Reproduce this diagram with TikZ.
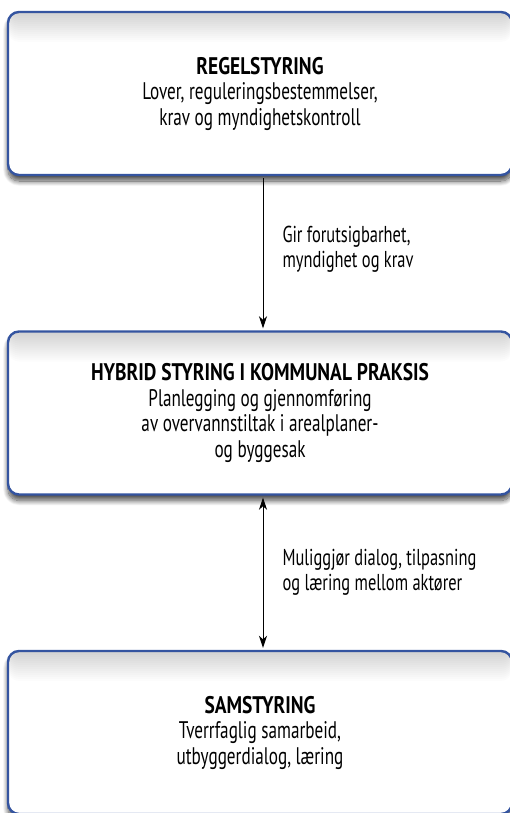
\documentclass[tikz,border=0pt]{standalone}
\usepackage{fontspec}
\setmainfont{PT Sans}[FakeStretch=0.715, BoldFeatures={FakeStretch=0.81}]
\usetikzlibrary{arrows.meta,shadows.blur}
\definecolor{boxblue}{RGB}{52,84,160}

\begin{document}
\begin{tikzpicture}[x=1bp, y=1bp,
	levelbox/.style={draw=boxblue, line width=2.4bp, rounded corners=11bp, fill=white,
		minimum width=504bp, minimum height=163bp, align=center,
		font=\fontsize{24bp}{25.5bp}\selectfont,
		blur shadow={shadow xshift=0bp, shadow yshift=-6bp, shadow blur radius=5bp, shadow blur steps=14, shadow opacity=70},
		path picture={\foreach \k in {1,...,15}
			\fill[black, opacity=0.012] (path picture bounding box.north west) rectangle ([yshift=-2*\k bp]path picture bounding box.north east);}},
	linklabel/.style={anchor=west, align=left, font=\fontsize{23bp}{25bp}\selectfont},
	linkarrow/.style={line width=1bp}]

	% Fixed frame of the picture
	\useasboundingbox (0,0) rectangle (510,-813);

	% The three levels of steering
	\node[levelbox] (regel) at (260,-93.5) {\textbf{REGELSTYRING}\\Lover, reguleringsbestemmelser,\\krav og myndighetskontroll};
	\node[levelbox] (hybrid) at (260,-413) {\textbf{HYBRID STYRING I KOMMUNAL PRAKSIS}\\Planlegging og gjennomføring\\av overvannstiltak i arealplaner-\\og byggesak};
	\node[levelbox] (sam) at (260,-732.5) {\textbf{SAMSTYRING}\\Tverrfaglig samarbeid,\\utbyggerdialog, læring};

	% Top-down link
	\draw[linkarrow, -{Stealth[length=12bp,width=8bp,inset=3.5bp]}] ([xshift=3bp,yshift=-2bp]regel.south) -- ([xshift=3bp,yshift=2bp]hybrid.north);
	\node[linklabel] (gir) at (279,-249) {Gir forutsigbarhet,\\myndighet og krav};

	% Two-way link
	\draw[linkarrow, {Stealth[length=12bp,width=8bp,inset=3.5bp]}-{Stealth[length=12bp,width=8bp,inset=3.5bp]}] ([xshift=3bp,yshift=-2bp]hybrid.south) -- ([xshift=3bp,yshift=2bp]sam.north);
	\node[linklabel] (muliggjor) at (279,-572) {Muliggjør dialog, tilpasning\\og læring mellom aktører};
\end{tikzpicture}
\end{document}
